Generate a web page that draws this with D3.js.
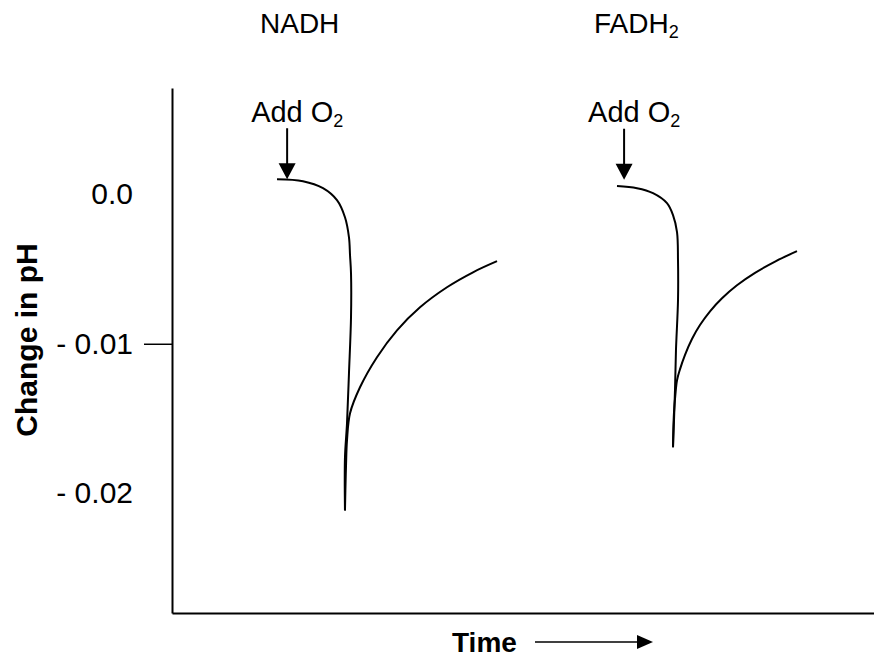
<!DOCTYPE html>
<html>
<head>
<meta charset="utf-8">
<script src="https://cdn.jsdelivr.net/npm/d3@7"></script>
<style>
  html, body { margin: 0; padding: 0; background: #fff; }
  svg { display: block; font-family: Arial, "Liberation Sans", Helvetica, sans-serif; }
</style>
</head>
<body>
<svg id="chart" width="874" height="657"></svg>
<script>
// ---- Data (time in arbitrary units, change in pH) ----
const tickValues = [0, -0.01, -0.02];
const tickLabels = ["0.0", "- 0.01", "- 0.02"];
const panelNames = ["NADH", "FADH"];
const panelSubs = ["", "2"];
const o2AddTime = [16.4, 64.4];
const o2AddPH = [0.0010, 0.0009];

// NADH trace: fall after adding O2, then recovery
const nadhFallT  = [14.96, 18.66, 21.51, 23.50, 24.64, 25.21, 25.36, 25.50, 25.50, 25.21, 24.93, 24.64, 24.64];
const nadhFallPH = [0.0010, 0.00087, 0.0004, -0.0004, -0.00154, -0.00288, -0.00408, -0.00528, -0.00823, -0.01197, -0.01532, -0.01759, -0.02114];
const nadhRiseT  = [24.64, 24.70, 24.79, 24.93, 25.36, 26.78, 29.20, 32.05, 35.33, 39.17, 42.88, 46.30];
const nadhRisePH = [-0.02114, -0.0198, -0.01813, -0.01645, -0.01465, -0.01291, -0.0109, -0.0091, -0.00756, -0.00622, -0.00522, -0.00448];

// FADH2 trace
const fadhFallT  = [63.39, 66.24, 68.52, 70.51, 71.37, 71.94, 72.08, 72.08, 71.79, 71.65, 71.51, 71.37];
const fadhFallPH = [0.00054, 0.0004, 0.00007, -0.0006, -0.0014, -0.00254, -0.00441, -0.00709, -0.01043, -0.01311, -0.01512, -0.01692];
const fadhRiseT  = [71.37, 71.41, 71.51, 71.70, 71.94, 72.36, 73.08, 74.07, 75.21, 76.64, 78.35, 80.48, 83.05, 86.04, 89.03];
const fadhRisePH = [-0.01692, -0.01579, -0.01458, -0.01344, -0.01244, -0.01171, -0.01074, -0.00968, -0.00875, -0.00783, -0.00696, -0.00609, -0.00526, -0.00447, -0.00381];

// ---- Chart ----
const svg = d3.select("#chart");
const x = d3.scaleLinear().domain([0, 100]).range([172, 874]);
const y = d3.scaleLinear().domain([-0.028, 0.0071]).range([613, 88]);

const STROKE = 2;

// Y axis
const yAxis = d3.axisLeft(y)
  .tickValues(tickValues)
  .tickFormat((d, i) => tickLabels[i])
  .tickSize(28)
  .tickSizeOuter(0)
  .tickPadding(11);
const gy = svg.append("g").attr("transform", `translate(${x(0)},0)`).call(yAxis);
gy.select(".domain").attr("stroke", "#000").attr("stroke-width", STROKE);
gy.selectAll(".tick line")
  .attr("stroke", "#000").attr("stroke-width", 1.5)
  .attr("display", d => d === -0.01 ? null : "none");
gy.selectAll(".tick text")
  .attr("font-size", 30)
  .attr("fill", "#000")
  .attr("font-family", "Arial, 'Liberation Sans', sans-serif");

// X axis (no ticks)
const xAxis = d3.axisBottom(x).tickValues([]).tickSizeOuter(0);
const gx = svg.append("g").attr("transform", `translate(0,${y(-0.028)})`).call(xAxis);
gx.select(".domain").attr("stroke", "#000").attr("stroke-width", STROKE);

// Traces
const line = d3.line()
  .x(d => x(d[0]))
  .y(d => y(d[1]))
  .curve(d3.curveCatmullRom.alpha(0.5));

const traces = [
  [nadhFallT, nadhFallPH],
  [nadhRiseT, nadhRisePH],
  [fadhFallT, fadhFallPH],
  [fadhRiseT, fadhRisePH]
];
traces.forEach(([ts, ps]) => {
  svg.append("path")
    .datum(ts.map((t, i) => [t, ps[i]]))
    .attr("d", line)
    .attr("fill", "none")
    .attr("stroke", "#000")
    .attr("stroke-width", STROKE);
});

// "Add O2" arrows
o2AddTime.forEach((t, i) => {
  const ax = x(t);
  const tipY = y(o2AddPH[i]) + (i === 0 ? 0 : -1);
  svg.append("line")
    .attr("x1", ax).attr("x2", ax)
    .attr("y1", tipY - 51).attr("y2", tipY - 12)
    .attr("stroke", "#000").attr("stroke-width", STROKE);
  svg.append("path")
    .attr("d", `M${ax - 8.5},${tipY - 16} L${ax + 8.5},${tipY - 16} L${ax},${tipY} Z`)
    .attr("fill", "#000");
  const txt = svg.append("text")
    .attr("x", ax - 36).attr("y", 122)
    .attr("font-size", 29).attr("fill", "#000");
  txt.append("tspan").text("Add O");
  txt.append("tspan").attr("font-size", 18).attr("dy", 5).text("2");
});

// Panel titles
const titleX = [260, 594];
panelNames.forEach((n, i) => {
  const t = svg.append("text")
    .attr("x", titleX[i]).attr("y", 33)
    .attr("font-size", 28).attr("fill", "#000");
  t.append("tspan").text(n);
  if (panelSubs[i]) t.append("tspan").attr("font-size", 18).attr("dy", 5).text(panelSubs[i]);
});

// Y axis title
svg.append("text")
  .attr("transform", "translate(37,340) rotate(-90)")
  .attr("text-anchor", "middle")
  .attr("font-size", 30)
  .attr("font-weight", "bold")
  .attr("fill", "#000")
  .text("Change in pH");

// X axis title with arrow
svg.append("text")
  .attr("x", 452).attr("y", 652)
  .attr("font-size", 28)
  .attr("font-weight", "bold")
  .attr("fill", "#000")
  .text("Time");
svg.append("line")
  .attr("x1", 535).attr("x2", 640)
  .attr("y1", 642).attr("y2", 642)
  .attr("stroke", "#000").attr("stroke-width", 1.5);
svg.append("path")
  .attr("d", "M637,635 L653,642 L637,649 Z")
  .attr("fill", "#000");
</script>
</body>
</html>
